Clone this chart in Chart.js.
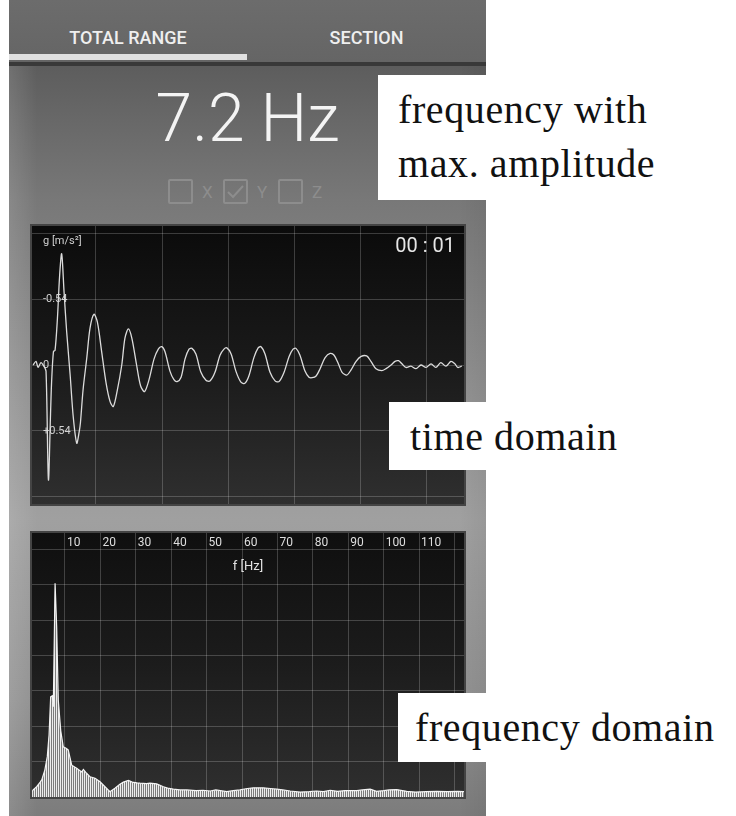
<!DOCTYPE html>
<html>
<head>
<meta charset="utf-8">
<script src="https://cdn.jsdelivr.net/npm/chart.js@4.4.1/dist/chart.umd.min.js"></script>
<style>
  html, body { margin: 0; padding: 0; background: #fff; }
  body { width: 736px; height: 816px; position: relative; overflow: hidden; font-family: Roboto, "Noto Sans", sans-serif; }
  .abs { position: absolute; }
  #phone {
    left: 9px; top: 0; width: 477px; height: 816px;
    background:
      linear-gradient(90deg, rgba(255,255,255,0.12) 0, rgba(255,255,255,0) 28px, rgba(0,0,0,0) 450px, rgba(0,0,0,0.05) 477px),
      linear-gradient(180deg, #5c5c5c 62px, #686868 120px, #787878 200px, #929292 400px, #a0a0a0 520px, #919191 700px, #7c7c7c 816px);
  }
  #tabs { left: 9px; top: 0; width: 477px; height: 62px; background: linear-gradient(180deg, #6c6c6c, #656565); border-bottom: 4px solid #393939; }
  .tab { top: 28px; height: 20px; line-height: 20px; font-size: 18px; font-weight: 500; color: #efefef; text-align: center; }
  #underline { left: 9px; top: 54px; width: 238px; height: 6px; background: #e0e0e0; }
  #bigValue { left: 9px; top: 86px; width: 477px; height: 66px; line-height: 66px; font-size: 66px; font-weight: 300; color: #f4f4f4; text-align: center; }
  .cb { width: 21px; height: 21px; border: 2px solid #8d8d8d; border-radius: 2px; top: 179px; }
  .cbl { top: 182px; font-size: 17px; line-height: 20px; color: #8d8d8d; }
  .panel { left: 30px; width: 432px; border: 2px solid #444; }
  #timePanel { top: 224px; height: 278px; background: linear-gradient(180deg, #0b0b0b, #1a1a1a 50%, #2f2f2f); }
  #freqPanel { top: 531px; height: 264px; background: linear-gradient(180deg, #0f0f0f, #1c1c1c 50%, #2f2f2f); }
  canvas { display: block; }
  #unitLabel { left: 43px; top: 234px; font-size: 11px; line-height: 14px; color: #cfcfcf; }
  #clock { left: 380px; width: 75px; top: 233px; font-size: 20px; line-height: 24px; color: #e6e6e6; text-align: right; }
  .note { background: #fff; color: #111; font-family: "Liberation Serif", "DejaVu Serif", serif; font-size: 40px; line-height: 54px; letter-spacing: 0.6px; white-space: nowrap; }
</style>
</head>
<body>
<div id="phone" class="abs"></div>
<div id="tabs" class="abs"></div>
<div class="abs tab" style="left:9px;width:238px;">TOTAL RANGE</div>
<div class="abs tab" style="left:247px;width:239px;">SECTION</div>
<div id="underline" class="abs"></div>

<div id="bigValue" class="abs">7.2 Hz</div>

<div class="abs cb" style="left:168px;"></div>
<div class="abs cbl" style="left:202px;">X</div>
<div class="abs cb" style="left:223px;">
  <svg width="21" height="21" viewBox="0 0 21 21"><polyline points="3,11 8,16 18,5" fill="none" stroke="#8d8d8d" stroke-width="2"/></svg>
</div>
<div class="abs cbl" style="left:257px;">Y</div>
<div class="abs cb" style="left:278px;"></div>
<div class="abs cbl" style="left:312px;">Z</div>

<div id="timePanel" class="abs panel"><canvas id="timeChart" width="432" height="278"></canvas></div>
<div id="unitLabel" class="abs">g [m/s²]</div>
<div id="clock" class="abs">00 : 01</div>

<div id="freqPanel" class="abs panel"><canvas id="freqChart" width="432" height="264"></canvas></div>

<div class="abs note" style="left:378px;top:75px;width:338px;height:117px;padding:8px 0 0 20px;">frequency with<br>max. amplitude</div>
<div class="abs note" style="left:389px;top:402px;width:326px;height:60px;padding:8px 0 0 21px;">time domain</div>
<div class="abs note" style="left:398px;top:693px;width:321px;height:61px;padding:8px 0 0 17px;">frequency domain</div>

<script>
// time domain (Y axis), seconds and g in m/s²
const timeSec = [0.013,0.024,0.032,0.043,0.054,0.062,0.071,0.079,0.083,0.090,
  0.096,0.105,0.113,0.121,0.130,0.140,0.153,0.165,0.178,0.187,
  0.192,0.202,0.216,0.228,0.243,0.256,0.272,0.289,0.304,0.316,
  0.330,0.348,0.360,0.373,0.386,0.404,0.419,0.434,0.451,0.470,
  0.486,0.499,0.511,0.530,0.545,0.557,0.572,0.587,0.602,0.613,
  0.628,0.647,0.666,0.681,0.700,0.719,0.734,0.745,0.761,0.779,
  0.798,0.813,0.828,0.847,0.863,0.874,0.889,0.908,0.927,0.942,
  0.961,0.980,0.995,1.006,1.021,1.040,1.055,1.067,1.082,1.097,
  1.116,1.135,1.150,1.166,1.180,1.198,1.214,1.233,1.252,1.273,
  1.289,1.308,1.330,1.346,1.365,1.380,1.393,1.406,1.421,1.440,
  1.459,1.478,1.497,1.516,1.534,1.553,1.572,1.591,1.606,1.617,
  1.632];
const accelY = [0,-0.03,0.02,-0.02,0.01,0.05,0.94,0.40,0.14,-0.11,
  -0.12,-0.38,-0.72,-0.91,-0.6,-0.27,0.08,0.43,0.64,0.55,
  0.47,0.2,-0.06,-0.3,-0.415,-0.35,-0.11,0.15,0.3,0.34,
  0.22,0,-0.22,-0.295,-0.22,0,0.17,0.218,0.12,-0.05,
  -0.13,-0.15,-0.11,0.05,0.12,0.136,0.10,-0.05,-0.13,-0.136,
  -0.09,0.06,0.125,0.131,0.06,-0.08,-0.13,-0.14,-0.09,0.05,
  0.14,0.15,0.09,-0.06,-0.14,-0.15,-0.09,0.06,0.13,0.136,
  0.06,-0.07,-0.13,-0.136,-0.08,0.05,0.1,0.104,0.09,0.03,
  -0.06,-0.095,-0.08,-0.01,0.06,0.082,0.04,-0.03,-0.07,-0.074,
  -0.03,0.03,0.046,0.03,0,-0.03,-0.035,-0.01,0.02,0.01,
  0.03,0,0.02,-0.01,0.02,-0.02,0.01,-0.03,-0.01,0.02,
  0.01];
const timeGrid = [0.25, 0.5, 0.75, 1, 1.25, 1.5];
const accelGrid = [-1.08, -0.54, 0, 0.54, 1.08];
const accelTickValues = [-0.54, 0, 0.54];
const accelTickText = ["-0.54", "0", "+0.54"];

// frequency domain (FFT magnitude, grid units)
const freqHz = [0.7,1,2,3,3.5,4.3,5,5.5,5.95,6.4,
  6.7,7.2,7.65,8.1,8.8,9.5,10.3,10.9,11.9,13.3,
  14.7,15.2,16.1,17.1,18.5,19.9,21.3,22.7,24.1,25.5,
  26.5,27.9,29,30.3,31.2,33,34,35.9,37.8,39,
  40.6,42.5,44.4,47,49,51,52.6,55.7,57.5,59.4,
  61.5,63.2,66,68,69.8,71.5,73.6,76.4,79,81,
  83,84.9,87,89,92.4,94,96.2,98,100,101.5,
  103.7,106.5,109,112,115,118,121,122.7];
const freqAmp = [0.15,0.2,0.29,0.42,0.5,0.76,1.14,1.75,2.83,2.86,
  2.55,6.04,4.8,2.74,1.87,1.42,1.38,1.33,0.9,0.81,
  0.71,0.78,0.67,0.57,0.53,0.43,0.29,0.15,0.25,0.36,
  0.42,0.47,0.42,0.40,0.39,0.38,0.39,0.37,0.29,0.25,
  0.22,0.2,0.2,0.18,0.19,0.17,0.2,0.15,0.18,0.2,
  0.24,0.26,0.26,0.24,0.22,0.2,0.17,0.14,0.15,0.17,
  0.15,0.19,0.16,0.18,0.18,0.2,0.22,0.16,0.18,0.2,
  0.21,0.16,0.14,0.15,0.16,0.15,0.16,0.15];
const freqGrid = [10, 20, 30, 40, 50, 60, 70, 80, 90, 100, 110, 120];
const freqTickLabels = [10, 20, 30, 40, 50, 60, 70, 80, 90, 100, 110];
const ampGrid = [1, 2, 3, 4, 5, 6, 7];

Chart.defaults.font.family = "Roboto";
const gridColor = "rgba(255, 255, 255, 0.2)";

// scales sit inside the plot like in the app: take no room and no padding
function flatX(s) { s.height = 0; s.paddingLeft = 0; s.paddingRight = 0; }
function flatY(s) { s.width = 0; s.paddingTop = 0; s.paddingBottom = 0; }

let timeChart = new Chart(document.getElementById("timeChart").getContext("2d"), {
  type: "line",
  data: {
    datasets: [{
      data: timeSec.map((t, i) => ({ x: t, y: accelY[i] })),
      borderColor: "#dcdcdc",
      borderWidth: 1.3,
      pointRadius: 0,
      tension: 0.3,
    }],
  },
  options: {
    responsive: false,
    animation: false,
    layout: { padding: 0, autoPadding: false },
    plugins: { legend: { display: false }, tooltip: { enabled: false } },
    scales: {
      x: {
        type: "linear",
        min: 0.009,
        max: 1.6405,
        afterBuildTicks: (s) => { s.ticks = timeGrid.map((v) => ({ value: v })); },
        afterFit: flatX,
        ticks: { display: false },
        grid: { color: gridColor, drawTicks: false },
        border: { display: false },
      },
      y: {
        min: -1.1374,
        max: 1.1374,
        reverse: true, // negative values are up on the phone
        afterBuildTicks: (s) => { s.ticks = accelGrid.map((v) => ({ value: v })); },
        afterFit: flatY,
        ticks: {
          mirror: true,
          padding: 11,
          color: "#d2d2d2",
          font: { size: 11 },
          callback: (v) => {
            const i = accelTickValues.indexOf(v);
            return i < 0 ? "" : accelTickText[i];
          },
        },
        grid: { color: gridColor, drawTicks: false },
        border: { display: false },
      },
    },
  },
});

// thin vertical stripes like the bars in the app
const freqCtx = document.getElementById("freqChart").getContext("2d");
const stripe = document.createElement("canvas");
stripe.width = 2;
stripe.height = 1;
const sctx = stripe.getContext("2d");
sctx.fillStyle = "#ededed";
sctx.fillRect(0, 0, 1, 1);
sctx.fillStyle = "#7c7c7c";
sctx.fillRect(1, 0, 1, 1);
const stripePattern = freqCtx.createPattern(stripe, "repeat");

let freqChart = new Chart(freqCtx, {
  type: "line",
  data: {
    datasets: [{
      data: freqHz.map((f, i) => ({ x: f, y: freqAmp[i] })),
      borderColor: "#f4f4f4",
      borderWidth: 1.2,
      backgroundColor: stripePattern,
      fill: "origin",
      pointRadius: 0,
      tension: 0,
    }],
  },
  options: {
    responsive: false,
    animation: false,
    layout: { padding: 0, autoPadding: false },
    plugins: { legend: { display: false }, tooltip: { enabled: false } },
    scales: {
      x: {
        type: "linear",
        position: "top",
        min: 0.68,
        max: 122.7,
        afterBuildTicks: (s) => { s.ticks = freqGrid.map((v) => ({ value: v })); },
        afterFit: flatX,
        ticks: {
          mirror: true,
          align: "start",
          labelOffset: 2,
          padding: 3,
          autoSkip: false,
          maxRotation: 0,
          color: "#dedede",
          font: { size: 12 },
          callback: (v) => (freqTickLabels.includes(v) ? String(v) : ""),
        },
        title: {
          display: true,
          text: "f [Hz]",
          color: "#e2e2e2",
          font: { size: 13 },
          padding: { top: 26, bottom: 0 },
        },
        grid: { color: gridColor, drawTicks: false },
        border: { display: false },
      },
      y: {
        min: 0,
        max: 7.458,
        afterBuildTicks: (s) => { s.ticks = ampGrid.map((v) => ({ value: v })); },
        afterFit: flatY,
        ticks: { display: false },
        grid: { color: gridColor, drawTicks: false },
        border: { display: false },
      },
    },
  },
});
</script>
</body>
</html>
